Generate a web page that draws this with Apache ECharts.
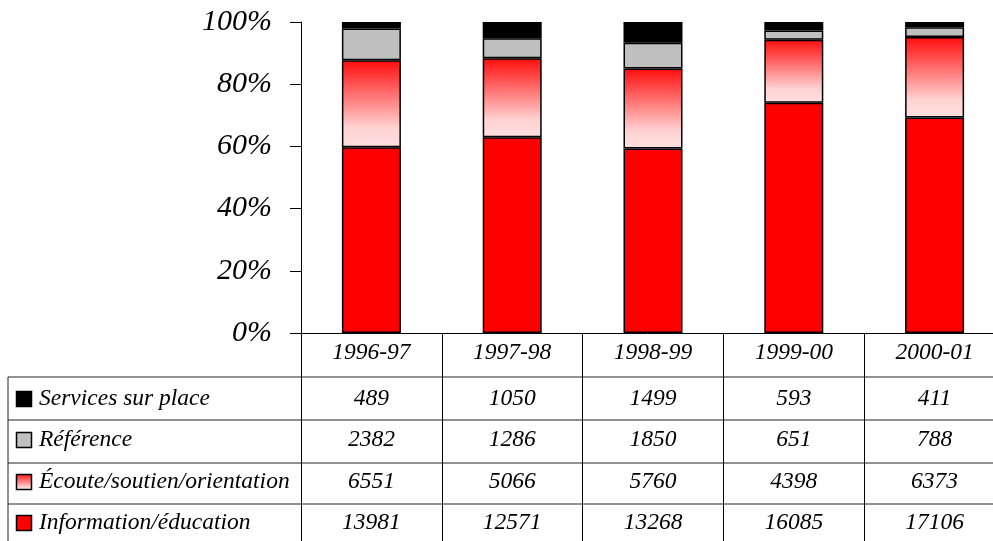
<!DOCTYPE html>
<html>
<head>
<meta charset="utf-8">
<script src="https://cdn.jsdelivr.net/npm/echarts@6/dist/echarts.min.js"></script>
<style>
  html, body { margin: 0; padding: 0; background: #ffffff; }
  #chart { width: 993px; height: 541px; }
</style>
</head>
<body>
<div id="chart"></div>
<script>
// Yearly service counts, by type
const categories = ['1996-97', '1997-98', '1998-99', '1999-00', '2000-01'];
const servicesSurPlace = [489, 1050, 1499, 593, 411];
const reference = [2382, 1286, 1850, 651, 788];
const ecoute = [6551, 5066, 5760, 4398, 6373];
const information = [13981, 12571, 13268, 16085, 17106];

// Percent axis ticks
const yTickMin = 0;
const yTickMax = 100;
const yTickStep = 20;

const FONT = "'Liberation Serif', 'Times New Roman', serif";

const totals = categories.map((_, i) =>
  servicesSurPlace[i] + reference[i] + ecoute[i] + information[i]);
const pct = arr => arr.map((v, i) => v / totals[i] * 100);

const ecouteFill = new echarts.graphic.LinearGradient(0, 0, 0, 1, [
  { offset: 0, color: '#ff0d0d' },
  { offset: 0.78, color: '#ffd2d2' },
  { offset: 1, color: '#ffe0e0' }
]);

// Table rows, top to bottom
const tableRows = [
  { name: 'Services sur place', values: servicesSurPlace, fill: '#000000' },
  { name: 'Référence', values: reference, fill: '#c0c0c0' },
  { name: 'Écoute/soutien/orientation', values: ecoute,
    fill: new echarts.graphic.LinearGradient(0, 0, 0, 1, [
      { offset: 0, color: '#ff1010' }, { offset: 1, color: '#ffffff' }]) },
  { name: 'Information/éducation', values: information, fill: '#ff0000' }
];

const chart = echarts.init(document.getElementById('chart'), null, { renderer: 'canvas' });

const BORDER = { borderColor: '#000000', borderWidth: 1.5 };
const barBase = { type: 'bar', stack: 'total', barWidth: 59, animation: false };

chart.setOption({
  backgroundColor: '#ffffff',
  animation: false,
  grid: {
    left: 301, top: 22, width: 704, height: 311,
    containLabel: false, outerBoundsMode: 'none'
  },
  xAxis: {
    type: 'category',
    data: categories,
    boundaryGap: true,
    axisLine: { lineStyle: { color: '#000000', width: 1 } },
    axisTick: { show: true, length: 215, lineStyle: { color: '#000000', width: 1 } },
    axisLabel: {
      margin: 8,
      color: '#000000',
      fontFamily: FONT,
      fontStyle: 'italic',
      fontSize: 23.5
    }
  },
  yAxis: {
    type: 'value',
    min: yTickMin,
    max: yTickMax,
    interval: yTickStep,
    axisLine: { show: true, lineStyle: { color: '#000000', width: 1 } },
    axisTick: { show: true, length: 11, lineStyle: { color: '#000000', width: 1 } },
    splitLine: { show: false },
    axisLabel: {
      margin: 29,
      color: '#000000',
      fontFamily: FONT,
      fontStyle: 'italic',
      fontSize: 30,
      formatter: '{value}%'
    }
  },
  series: [
    Object.assign({}, barBase, { name: 'Information/éducation', data: pct(information),
      itemStyle: Object.assign({ color: '#ff0000' }, BORDER) }),
    Object.assign({}, barBase, { name: 'Écoute/soutien/orientation', data: pct(ecoute),
      itemStyle: Object.assign({ color: ecouteFill }, BORDER) }),
    Object.assign({}, barBase, { name: 'Référence', data: pct(reference),
      itemStyle: Object.assign({ color: '#c0c0c0' }, BORDER) }),
    Object.assign({}, barBase, { name: 'Services sur place', data: pct(servicesSurPlace),
      itemStyle: Object.assign({ color: '#000000' }, BORDER) })
  ]
});

// Data table under the plot
const colX = categories.map((_, i) => chart.convertToPixel({ xAxisIndex: 0 }, i));
const tableLeft = 8;
const tableRight = 1004;
const rowLines = [377, 420, 463, 504];
const rowCenters = [399, 440, 482, 523];
const elements = [];

rowLines.forEach(y => {
  elements.push({
    type: 'line', silent: true,
    shape: { x1: tableLeft, y1: y, x2: tableRight, y2: y },
    style: { stroke: '#222222', lineWidth: 1 }
  });
});
elements.push({
  type: 'line', silent: true,
  shape: { x1: tableLeft, y1: rowLines[0], x2: tableLeft, y2: 560 },
  style: { stroke: '#222222', lineWidth: 1 }
});

tableRows.forEach((row, r) => {
  const cy = rowCenters[r];
  elements.push({
    type: 'rect', silent: true,
    shape: { x: 16.5, y: cy - 7.5, width: 15, height: 15 },
    style: { fill: row.fill, stroke: '#000000', lineWidth: 1.5 }
  });
  elements.push({
    type: 'text', silent: true, x: 39, y: cy,
    style: {
      text: row.name, fill: '#000000',
      font: 'italic 23.5px ' + FONT,
      textAlign: 'left', textVerticalAlign: 'middle'
    }
  });
  row.values.forEach((v, i) => {
    elements.push({
      type: 'text', silent: true, x: colX[i], y: cy,
      style: {
        text: String(v), fill: '#000000',
        font: 'italic 23.5px ' + FONT,
        textAlign: 'center', textVerticalAlign: 'middle'
      }
    });
  });
});

chart.setOption({ graphic: elements });
</script>
</body>
</html>
